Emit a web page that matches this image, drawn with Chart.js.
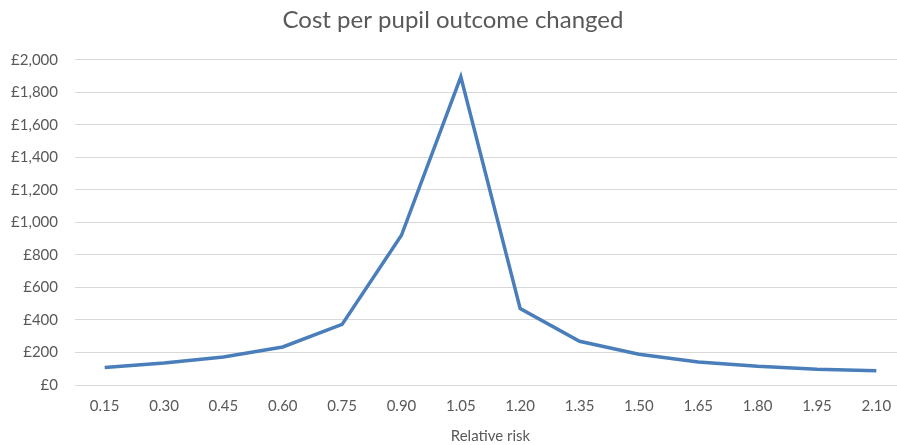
<!DOCTYPE html>
<html>
<head>
<meta charset="utf-8">
<script src="https://cdn.jsdelivr.net/npm/chart.js@4"></script>
<style>
  html, body { margin: 0; padding: 0; background: #fff; overflow: hidden; }
  #wrap { width: 924px; height: 445px; }
</style>
</head>
<body>
<div id="wrap"><canvas id="chart" width="924" height="445"></canvas></div>
<script>
// relative risk categories
const riskLabels = ["0.15", "0.30", "0.45", "0.60", "0.75", "0.90", "1.05",
                    "1.20", "1.35", "1.50", "1.65", "1.80", "1.95", "2.10"];
// cost per pupil outcome changed (GBP)
const costValues = [107, 135, 172, 234, 373, 921, 1895,
                    470, 269, 189, 142, 115, 97, 88];
const yTicks = [0, 200, 400, 600, 800, 1000, 1200, 1400, 1600, 1800, 2000];

const grey = "#595959";
const gridGrey = "#d9d9d9";
const font = "Lato, 'Open Sans', sans-serif";

function money(v) {
  return "£" + v.toLocaleString("en-GB");
}

const ctx = document.getElementById("chart").getContext("2d");
const chart = new Chart(ctx, {
  type: "line",
  data: {
    labels: riskLabels,
    datasets: [{
      label: "Cost per pupil outcome changed",
      data: costValues,
      borderColor: "#4a7ebb",
      borderWidth: 3.5,
      pointRadius: 0,
      fill: false,
      tension: 0
    }]
  },
  options: {
    responsive: false,
    animation: false,
    layout: { padding: { left: 0, right: 18, top: 0, bottom: 0 } },
    plugins: {
      legend: { display: false },
      tooltip: { enabled: false },
      title: {
        display: true,
        text: "Cost per pupil outcome changed",
        color: grey,
        font: { family: font, size: 24, weight: "400" },
        padding: { top: 6, bottom: 25 }
      }
    },
    scales: {
      x: {
        offset: true,
        grid: { display: false, drawTicks: false },
        border: { display: true, color: gridGrey, width: 1 },
        ticks: { color: grey, font: { family: font, size: 15 }, padding: 12, maxRotation: 0 },
        title: {
          display: true,
          text: "Relative risk",
          color: grey,
          font: { family: font, size: 15 },
          padding: { top: 4, bottom: 0 }
        },
        afterFit: (scale) => { scale.height = 60; }
      },
      y: {
        min: 0,
        max: 2000,
        afterBuildTicks: (scale) => { scale.ticks = yTicks.map(v => ({ value: v })); },
        grid: { color: gridGrey, lineWidth: 1, drawTicks: false },
        border: { display: false },
        ticks: { color: grey, font: { family: font, size: 15 }, padding: 17, callback: (v) => money(v) },
        afterFit: (scale) => { scale.width = 75; }
      }
    }
  }
});
</script>
</body>
</html>
